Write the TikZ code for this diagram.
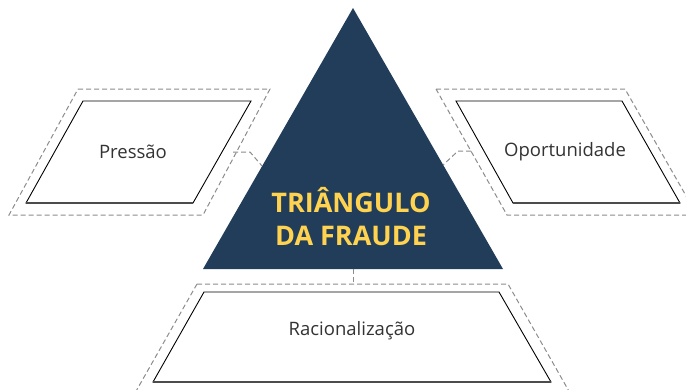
\documentclass[tikz,border=0pt]{standalone}
\usepackage{fontspec}
\setmainfont{Open Sans}
\usetikzlibrary{positioning}
\definecolor{navy}{HTML}{213D59}
\definecolor{gold}{HTML}{FFD24F}
\tikzset{
	frame/.style    = {draw=black, line width=0.9pt, fill=white},
	base/.style     = {draw=black!70, line width=1.6pt},
	halo/.style     = {draw=black!45, dash pattern=on 5pt off 3pt, line width=1pt},
	boxtext/.style  = {font=\fontsize{18.5}{20}\selectfont, text=black!80},
	headtext/.style = {font=\bfseries\fontsize{27}{33}\selectfont, text=gold, align=center}
}

\begin{document}
\begin{tikzpicture}[x=1pt, y=-1pt]
	\path[use as bounding box, clip] (0,0) rectangle (686,389);

	% triangulo
	\coordinate (apex) at (353,8);
	\coordinate (tl) at (203,269);
	\coordinate (tr) at (503,269);
	\fill[navy] (apex) -- (tr) -- (tl) -- cycle;
	\node[headtext] (titulo) at (351,217) {TRIÂNGULO\\DA FRAUDE};

	% pressao
	\draw[halo] (78,89) -- (270,89) -- (203,215) -- (9,215) -- cycle;
	\draw[frame] (83,101) -- (251,101) -- (193,203) -- (26,203) -- cycle;
	\draw[base] (26,203) -- (193,203);
	\node[boxtext] (pressao) at (133,152) {Pressão};

	% oportunidade
	\draw[halo] (436,89) -- (625,89) -- (697,215) -- (507,215) -- cycle;
	\draw[frame] (456,101) -- (622,101) -- (680,203) -- (513,203) -- cycle;
	\draw[base] (513,203) -- (680,203);
	\node[boxtext] (oportunidade) at (565,152) {Oportunidade};

	% racionalizacao
	\draw[halo] (197,284) -- (508,284) -- (574,400) -- (131,400) -- cycle;
	\draw[frame] (204,292) -- (499,292) -- (551,382) -- (153,382) -- cycle;
	\draw[base] (153,382) -- (551,382);
	\node[boxtext] (racionalizacao) at (352,331) {Racionalização};

	% ligacoes
	\coordinate (pl) at (233,152);
	\coordinate (pt) at (262,166);
	\coordinate (ol) at (471,151);
	\coordinate (ot) at (443,165);
	\coordinate (rb) at (353,269);
	\coordinate (rt) at (353,284);
	\draw[halo] (pl) -- (250,152) -- (pt);
	\draw[halo] (ol) -- (458,151) -- (ot);
	\draw[halo] (rb) -- (rt);
\end{tikzpicture}
\end{document}
